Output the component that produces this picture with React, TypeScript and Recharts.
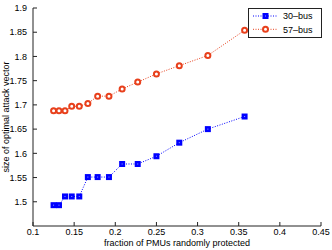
import { ComposedChart, Line, XAxis, YAxis, Legend, Label } from "recharts";

const fractions = [5 / 40, 5 / 38, 5 / 36, 5 / 34, 5 / 32, 5 / 30, 5 / 28, 5 / 26, 5 / 24, 5 / 22, 5 / 20, 5 / 18, 5 / 16, 5 / 14];
const bus30 = [1.493, 1.493, 1.511, 1.511, 1.511, 1.551, 1.551, 1.551, 1.578, 1.578, 1.594, 1.622, 1.65, 1.676];
const bus57 = [1.688, 1.688, 1.688, 1.697, 1.697, 1.703, 1.718, 1.718, 1.733, 1.747, 1.764, 1.781, 1.802, 1.854];
const xTicks = [0.1, 0.15, 0.2, 0.25, 0.3, 0.35, 0.4, 0.45];
const yTicks = [1.5, 1.55, 1.6, 1.65, 1.7, 1.75, 1.8, 1.85, 1.9];

const BLUE = "#0000ff";
const RED = "#e8401c";
const FONT = "'Liberation Sans', Arial, sans-serif";

const data = fractions.map((f, i) => ({ f, bus30: bus30[i], bus57: bus57[i] }));

const Square = (props: any) => {
  const { cx, cy } = props;
  if (cx == null || cy == null) return null;
  return (
    <g>
      <rect x={cx - 3} y={cy - 3} width={6} height={6} fill={BLUE} />
      <rect x={cx - 0.5} y={cy - 0.5} width={1} height={1} fill="#8fa0ff" />
    </g>
  );
};

const Circle = (props: any) => {
  const { cx, cy } = props;
  if (cx == null || cy == null) return null;
  return <circle cx={cx} cy={cy} r={2.5} fill="#fff" stroke={RED} strokeWidth={2} />;
};

const LegendBox = () => (
  <svg width={75} height={31} style={{ display: "block" }}>
    <rect x={0.5} y={0.5} width={73} height={29} fill="#fff" stroke="#222" strokeWidth={1} />
    <line x1={5} x2={29} y1={8} y2={8} stroke={BLUE} strokeWidth={1} strokeDasharray="1 1.5" />
    <Square cx={17.5} cy={8} />
    <text x={35} y={11.3} fontSize={9} fontFamily={FONT} fill="#000">30–bus</text>
    <line x1={5} x2={29} y1={21.3} y2={21.3} stroke={RED} strokeWidth={1} strokeDasharray="1 1.5" />
    <Circle cx={17.5} cy={21.3} />
    <text x={35} y={24.6} fontSize={9} fontFamily={FONT} fill="#000">57–bus</text>
  </svg>
);

const tickStyle = { fontSize: 9, fontFamily: FONT, fill: "#000" };
const axisColor = "#222";

export default function App() {
  return (
    <div style={{ position: "absolute", left: 0, top: 0, width: 332, height: 250, background: "#fff" }}>
      <ComposedChart width={332} height={250} data={data} margin={{ top: 8, right: 11, bottom: 0, left: 0 }}>
        <XAxis
          xAxisId="b"
          dataKey="f"
          type="number"
          domain={[0.1, 0.45]}
          ticks={xTicks}
          tickFormatter={(v: number) => String(Number(v.toFixed(2)))}
          tickSize={-4}
          tickMargin={7}
          tick={tickStyle}
          stroke={axisColor}
          height={24}
          interval={0}
          allowDataOverflow
        >
          <Label value="fraction of PMUs randomly protected" position="bottom" offset={-10} style={{ fontSize: 9, fontFamily: FONT, fill: "#000" }} />
        </XAxis>
        <XAxis
          xAxisId="t"
          orientation="top"
          type="number"
          domain={[0.1, 0.45]}
          ticks={xTicks}
          tickSize={-4}
          tick={false}
          stroke={axisColor}
          height={0}
          allowDataOverflow
        />
        <YAxis
          yAxisId="l"
          type="number"
          domain={[1.45, 1.9]}
          ticks={yTicks}
          tickSize={-4}
          tickMargin={10}
          tick={tickStyle}
          stroke={axisColor}
          width={33}
          interval={0}
          allowDataOverflow
        >
          <Label value="size of optimal attack vector" angle={-90} position="insideLeft" offset={6} style={{ fontSize: 9, fontFamily: FONT, fill: "#000", textAnchor: "middle" }} />
        </YAxis>
        <YAxis
          yAxisId="r"
          orientation="right"
          type="number"
          domain={[1.45, 1.9]}
          ticks={yTicks}
          tickSize={-4}
          tick={false}
          stroke={axisColor}
          width={0}
          allowDataOverflow
        />
        <Legend
          layout="horizontal"
          verticalAlign="middle"
          align="center"
          content={() => <LegendBox />}
          wrapperStyle={{ top: 8, left: 248, width: 75, height: 31 }}
        />
        <Line
          xAxisId="b"
          yAxisId="l"
          dataKey="bus30"
          stroke={BLUE}
          strokeWidth={1}
          strokeDasharray="1 1.5"
          dot={<Square />}
          activeDot={false}
          isAnimationActive={false}
        />
        <Line
          xAxisId="b"
          yAxisId="l"
          dataKey="bus57"
          stroke={RED}
          strokeWidth={1}
          strokeDasharray="1 1.5"
          dot={<Circle />}
          activeDot={false}
          isAnimationActive={false}
        />
      </ComposedChart>
    </div>
  );
}
